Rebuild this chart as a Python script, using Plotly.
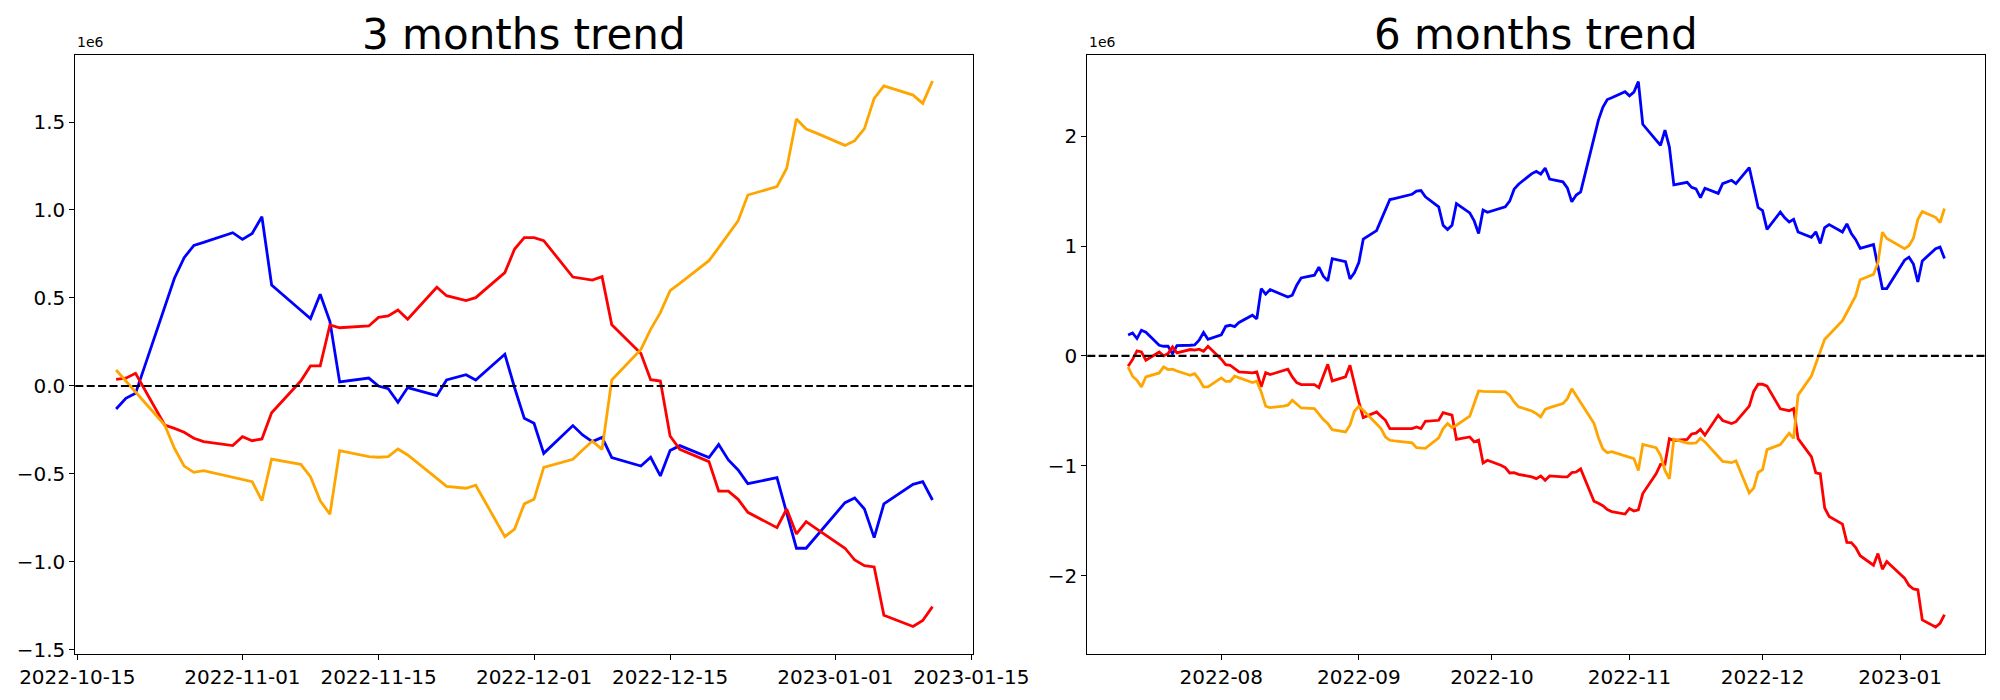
import plotly.graph_objects as go

# ---------------- data (values in millions, axis offset label "1e6") ----------------
dates_3m = ["2022-10-19","2022-10-20","2022-10-21","2022-10-24","2022-10-25","2022-10-26","2022-10-27","2022-10-28",
            "2022-10-31","2022-11-01","2022-11-02","2022-11-03","2022-11-04","2022-11-07","2022-11-08","2022-11-09",
            "2022-11-10","2022-11-11","2022-11-14","2022-11-15","2022-11-16","2022-11-17","2022-11-18","2022-11-21",
            "2022-11-22","2022-11-24","2022-11-25","2022-11-28","2022-11-29","2022-11-30","2022-12-01","2022-12-02",
            "2022-12-05","2022-12-06","2022-12-07","2022-12-08","2022-12-09","2022-12-12","2022-12-13","2022-12-14",
            "2022-12-15","2022-12-16","2022-12-19","2022-12-20","2022-12-21","2022-12-22","2022-12-23","2022-12-26",
            "2022-12-27","2022-12-28","2022-12-29","2022-12-30","2023-01-02","2023-01-03","2023-01-04","2023-01-05",
            "2023-01-06","2023-01-09","2023-01-10","2023-01-11"]

blue_3m = [-0.131,-0.070,-0.042,0.45,0.612,0.729,0.799,0.816,0.871,0.833,0.867,0.962,0.574,0.430,0.383,0.521,
           0.366,0.023,0.045,0.0,-0.015,-0.093,-0.009,-0.055,0.034,0.064,0.034,0.180,-0.01,-0.184,-0.212,-0.383,
           -0.225,-0.278,-0.316,-0.292,-0.407,-0.455,-0.405,-0.511,-0.367,-0.339,-0.407,-0.333,-0.420,-0.477,-0.555,
           -0.521,-0.72,-0.922,-0.922,-0.858,-0.663,-0.636,-0.699,-0.862,-0.670,-0.559,-0.544,-0.648]

red_3m = [0.038,0.044,0.072,-0.222,-0.241,-0.263,-0.297,-0.316,-0.339,-0.288,-0.311,-0.301,-0.152,0.028,0.114,0.114,
          0.347,0.331,0.341,0.390,0.398,0.432,0.379,0.561,0.513,0.485,0.502,0.644,0.778,0.843,0.843,0.826,
          0.619,0.612,0.602,0.621,0.348,0.184,0.036,0.028,-0.284,-0.360,-0.430,-0.597,-0.598,-0.644,-0.718,
          -0.805,-0.699,-0.841,-0.771,-0.809,-0.922,-0.989,-1.021,-1.028,-1.303,-1.367,-1.333,-1.254]

orange_3m = [0.091,0.027,-0.034,-0.222,-0.354,-0.455,-0.491,-0.481,-0.519,-0.532,-0.544,-0.652,-0.415,-0.445,-0.515,-0.652,
             -0.729,-0.367,-0.402,-0.405,-0.402,-0.358,-0.392,-0.525,-0.570,-0.581,-0.564,-0.856,-0.813,-0.670,-0.644,-0.462,
             -0.417,-0.364,-0.313,-0.360,0.034,0.208,0.322,0.417,0.542,0.583,0.712,0.786,0.864,0.939,1.085,
             1.133,1.237,1.517,1.460,1.438,1.367,1.394,1.462,1.634,1.705,1.653,1.606,1.733]

dates_6m = ["2022-07-11","2022-07-12","2022-07-13","2022-07-14","2022-07-15","2022-07-18","2022-07-19","2022-07-20",
            "2022-07-21","2022-07-22","2022-07-25","2022-07-26","2022-07-27","2022-07-28","2022-07-29",
            "2022-08-01","2022-08-02","2022-08-03","2022-08-04","2022-08-05","2022-08-08","2022-08-09","2022-08-10",
            "2022-08-11","2022-08-12","2022-08-15","2022-08-16","2022-08-17","2022-08-18","2022-08-19","2022-08-22",
            "2022-08-23","2022-08-24","2022-08-25","2022-08-26","2022-08-29","2022-08-30","2022-08-31",
            "2022-09-01","2022-09-02","2022-09-05","2022-09-06","2022-09-07","2022-09-08","2022-09-09","2022-09-12",
            "2022-09-13","2022-09-14","2022-09-15","2022-09-16","2022-09-19","2022-09-20","2022-09-21","2022-09-22",
            "2022-09-23","2022-09-26","2022-09-27","2022-09-28","2022-09-29","2022-09-30",
            "2022-10-03","2022-10-04","2022-10-05","2022-10-06","2022-10-07","2022-10-10","2022-10-11","2022-10-12",
            "2022-10-13","2022-10-14","2022-10-17","2022-10-18"] + dates_3m

blue_6m = [0.191,0.209,0.158,0.234,0.216,0.097,0.088,0.088,0.021,0.094,0.097,0.100,0.143,0.213,0.152,
           0.191,0.270,0.279,0.267,0.304,0.370,0.337,0.613,0.562,0.604,0.556,0.537,0.553,0.644,0.710,
           0.735,0.808,0.726,0.683,0.886,0.859,0.701,0.756,
           0.850,1.063,1.141,1.236,1.327,1.424,1.433,1.463,1.472,1.500,1.506,1.448,1.357,1.190,1.151,1.190,
           1.387,1.302,1.229,1.114,1.327,1.308,
           1.348,1.357,1.409,1.518,1.563,1.66,1.68,1.655,1.71,1.61,1.585,1.53,
           1.404,1.465,1.493,1.985,2.147,2.264,2.334,2.351,2.406,2.368,2.402,2.497,2.109,1.965,1.918,2.056,
           1.901,1.558,1.580,1.535,1.520,1.442,1.526,1.480,1.569,1.599,1.569,1.715,1.525,1.351,1.323,1.152,
           1.310,1.257,1.219,1.243,1.128,1.080,1.130,1.024,1.168,1.196,1.128,1.202,1.115,1.058,0.980,1.014,
           0.815,0.613,0.613,0.677,0.872,0.899,0.836,0.673,0.865,0.976,0.991,0.887]

red_6m = [-0.094,-0.033,0.046,0.036,-0.039,0.036,0.0,0.021,0.082,0.027,0.058,0.052,0.061,0.042,0.088,
          -0.03,-0.079,-0.085,-0.115,-0.146,-0.155,-0.146,-0.282,-0.152,-0.170,-0.137,-0.121,-0.191,-0.243,-0.261,
          -0.261,-0.288,-0.176,-0.076,-0.228,-0.191,-0.085,-0.267,
          -0.419,-0.562,-0.510,-0.549,-0.586,-0.662,-0.662,-0.665,-0.662,-0.647,-0.662,-0.595,-0.586,-0.516,-0.531,-0.540,
          -0.759,-0.738,-0.783,-0.768,-0.975,-0.950,
          -0.996,-1.017,-1.066,-1.063,-1.078,-1.102,-1.117,-1.093,-1.132,-1.093,-1.102,-1.102,
          -1.063,-1.057,-1.029,-1.323,-1.342,-1.364,-1.398,-1.417,-1.440,-1.389,-1.412,-1.402,-1.253,-1.073,-0.987,-0.987,
          -0.754,-0.770,-0.760,-0.711,-0.703,-0.669,-0.722,-0.540,-0.588,-0.616,-0.599,-0.457,-0.323,-0.258,-0.258,-0.275,
          -0.482,-0.489,-0.499,-0.480,-0.753,-0.917,-1.065,-1.073,-1.385,-1.461,-1.531,-1.698,-1.699,-1.745,-1.819,
          -1.906,-1.800,-1.942,-1.872,-1.910,-2.023,-2.090,-2.122,-2.129,-2.404,-2.468,-2.434,-2.355]

orange_6m = [-0.100,-0.185,-0.222,-0.282,-0.191,-0.155,-0.100,-0.124,-0.121,-0.137,-0.176,-0.161,-0.213,-0.282,-0.282,
             -0.200,-0.231,-0.231,-0.185,-0.200,-0.243,-0.231,-0.328,-0.458,-0.471,-0.458,-0.449,-0.404,-0.440,-0.474,
             -0.480,-0.531,-0.580,-0.616,-0.671,-0.692,-0.631,-0.504,
             -0.458,-0.495,-0.616,-0.662,-0.738,-0.768,-0.774,-0.783,-0.792,-0.835,-0.841,-0.841,-0.747,-0.662,-0.616,-0.653,
             -0.631,-0.549,-0.434,-0.319,-0.322,-0.322,
             -0.325,-0.328,-0.358,-0.419,-0.464,-0.501,-0.525,-0.556,-0.486,-0.471,-0.434,-0.389,
             -0.300,-0.364,-0.425,-0.613,-0.745,-0.846,-0.882,-0.872,-0.910,-0.923,-0.935,-1.043,-0.806,-0.836,-0.906,-1.043,
             -1.120,-0.758,-0.793,-0.796,-0.793,-0.749,-0.783,-0.916,-0.961,-0.972,-0.955,-1.247,-1.204,-1.061,-1.035,-0.853,
             -0.808,-0.755,-0.704,-0.751,-0.357,-0.183,-0.069,0.026,0.151,0.192,0.321,0.395,0.473,0.548,0.694,
             0.742,0.846,1.126,1.069,1.047,0.976,1.003,1.071,1.243,1.314,1.262,1.215,1.342]

titles = ["3 months trend", "6 months trend"]
xticks_3m = ["2022-10-15","2022-11-01","2022-11-15","2022-12-01","2022-12-15","2023-01-01","2023-01-15"]
xticks_6m = ["2022-08-01","2022-09-01","2022-10-01","2022-11-01","2022-12-01","2023-01-01"]
yticks_3m = [-1.5,-1.0,-0.5,0.0,0.5,1.0,1.5]
yticks_6m = [-2,-1,0,1,2]

# ---------------- figure ----------------
# The page body has an 8px margin, so the figure is 16px smaller than the
# 2000x700 window and every page position is shifted by 8px.
FONT = "DejaVu Sans"
OFF = 8
W, H = 2000 - 2 * OFF, 700 - 2 * OFF


def fx(px):
    return (px - OFF) / W


def fy(py):
    return (H - (py - OFF)) / H


dom_x1 = [fx(75.3), fx(973.3)]
dom_x2 = [fx(1087.3), fx(1985.3)]
dom_y = [fy(654), fy(55.3)]
LW = 2.8

fig = go.Figure()
series = [("blue", "blue"), ("red", "red"), ("orange", "orange")]
for (name, col), vals in zip(series, [blue_3m, red_3m, orange_3m]):
    fig.add_trace(go.Scatter(x=dates_3m, y=vals, mode="lines", name=name,
                             line=dict(color=col, width=LW), xaxis="x", yaxis="y", showlegend=False))
for (name, col), vals in zip(series, [blue_6m, red_6m, orange_6m]):
    fig.add_trace(go.Scatter(x=dates_6m, y=vals, mode="lines", name=name,
                             line=dict(color=col, width=LW), xaxis="x2", yaxis="y2", showlegend=False))

axis_common = dict(showline=True, mirror=True, linecolor="black", linewidth=1.1,
                   ticks="outside", ticklen=5, tickwidth=1.1, tickcolor="black",
                   showgrid=False, zeroline=False, automargin=False,
                   tickfont=dict(family=FONT, size=20, color="black"))

fig.update_layout(
    template="none",
    width=W, height=H,
    margin=dict(l=0, r=0, t=0, b=0, autoexpand=False),
    paper_bgcolor="white", plot_bgcolor="white",
    font=dict(family=FONT, color="black"),
    xaxis=dict(domain=dom_x1, anchor="y", type="date",
               range=["2022-10-14 19:12", "2023-01-15 04:48"],
               tickvals=xticks_3m, tickformat="%Y-%m-%d", **axis_common),
    yaxis=dict(domain=dom_y, anchor="x", range=[-1.523, 1.879],
               tickvals=yticks_3m, tickformat=".1f", **axis_common),
    xaxis2=dict(domain=dom_x2, anchor="y2", type="date",
                range=["2022-07-01 19:12", "2023-01-20 04:48"],
                tickvals=xticks_6m, tickformat="%Y-%m", **axis_common),
    yaxis2=dict(domain=dom_y, anchor="x2", range=[-2.714, 2.737],
                tickvals=yticks_6m, tickformat="d", **axis_common),
)

# dashed zero lines
for xr, yr in [("x domain", "y"), ("x2 domain", "y2")]:
    fig.add_shape(type="line", xref=xr, yref=yr, x0=0, x1=1, y0=0, y1=0,
                  line=dict(color="black", width=2.1, dash="8px,3.4px"), layer="above")

# titles and offset labels
for dom, t in [(dom_x1, titles[0]), (dom_x2, titles[1])]:
    fig.add_annotation(text=t, xref="paper", yref="paper", x=(dom[0] + dom[1]) / 2, y=0.998,
                       xanchor="center", yanchor="top", showarrow=False, borderpad=0,
                       font=dict(family=FONT, size=42, color="black"))
    fig.add_annotation(text="1e6", xref="paper", yref="paper", x=dom[0], y=fy(52),
                       xanchor="left", yanchor="bottom", showarrow=False,
                       font=dict(family=FONT, size=14, color="black"))

fig.write_html("out.html")
